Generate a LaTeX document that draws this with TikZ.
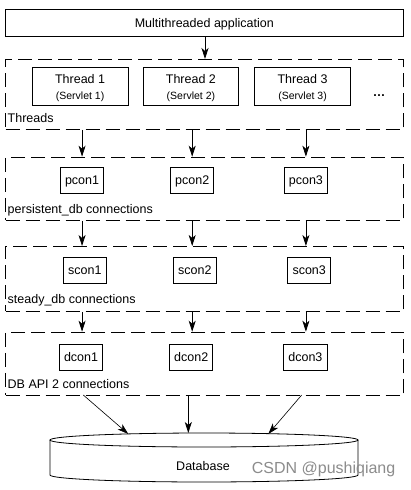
\documentclass[tikz,border=0pt]{standalone}
\usepackage{fontspec}
\setmainfont{Liberation Sans}
\usetikzlibrary{arrows.meta}
\tikzset{
  lw/.style={line width=0.8pt},
  box/.style={draw, lw, inner sep=0pt, anchor=north west},
  dbox/.style={draw, lw, dash pattern=on 14pt off 6pt, inner sep=0pt, anchor=north west},
  txt/.style={inner sep=0pt, anchor=base, font=\fontsize{12.5}{15}\selectfont},
  small/.style={inner sep=0pt, anchor=base, font=\fontsize{10.5}{13}\selectfont},
  lbl/.style={inner sep=0pt, anchor=base west, font=\fontsize{12.5}{15}\selectfont},
  arr/.style={lw, -{Stealth[length=11pt, width=7pt, inset=3pt]}},
  darr/.style={line width=0.6pt, -{Stealth[length=11pt, width=7pt, inset=3pt]}},
}
\begin{document}
\begin{tikzpicture}[x=1pt, y=-1pt]
\useasboundingbox (0,0) rectangle (410,490);
\fill[white] (0,0) rectangle (410,490);

% top application box
\node[box, minimum width=398pt, minimum height=26.7pt] (app) at (5.3,9.3) {};
\node[txt] (appt) at (204.3,27.3) {Multithreaded application};

% Threads layer
\node[dbox, minimum width=398pt, minimum height=70pt] (threads) at (5.3,59) {};
\node[box, minimum width=96pt, minimum height=38pt] (t1) at (31.7,67.3) {};
\node[box, minimum width=95.6pt, minimum height=38pt] (t2) at (142.7,67.3) {};
\node[box, minimum width=95.7pt, minimum height=38pt] (t3) at (254.3,67.3) {};
\node[txt] (t1a) at (t1.center |- 0,83.3) {Thread 1};
\node[small] (t1b) at (t1.center |- 0,99.3) {(Servlet 1)};
\node[txt] (t2a) at (t2.center |- 0,83.3) {Thread 2};
\node[small] (t2b) at (t2.center |- 0,99.3) {(Servlet 2)};
\node[txt] (t3a) at (t3.center |- 0,83.3) {Thread 3};
\node[small] (t3b) at (t3.center |- 0,99.3) {(Servlet 3)};
\node[txt] (dots) at (379,96) {\textbf{\dots}};
\node[lbl] (threadsl) at (7.5,122.7) {Threads};

% persistent_db layer
\node[dbox, minimum width=398pt, minimum height=63.3pt] (pers) at (5.3,156.7) {};
\node[box, minimum width=43.3pt, minimum height=26pt] (p1) at (60,167.3) {};
\node[box, minimum width=43pt, minimum height=26pt] (p2) at (170.3,167.3) {};
\node[box, minimum width=43pt, minimum height=26pt] (p3) at (284,167.3) {};
\node[txt] (p1t) at (p1.center |- 0,184.5) {pcon1};
\node[txt] (p2t) at (p2.center |- 0,184.5) {pcon2};
\node[txt] (p3t) at (p3.center |- 0,184.5) {pcon3};
\node[lbl] (persl) at (7.5,213) {persistent\_db connections};

% steady_db layer
\node[dbox, minimum width=398pt, minimum height=65pt] (steady) at (5.3,246) {};
\node[box, minimum width=42.4pt, minimum height=26.6pt] (s1) at (63.3,256.7) {};
\node[box, minimum width=43pt, minimum height=26.6pt] (s2) at (173,256.7) {};
\node[box, minimum width=43pt, minimum height=26.6pt] (s3) at (287.3,256.7) {};
\node[txt] (s1t) at (s1.center |- 0,274) {scon1};
\node[txt] (s2t) at (s2.center |- 0,274) {scon2};
\node[txt] (s3t) at (s3.center |- 0,274) {scon3};
\node[lbl] (steadyl) at (7.5,303) {steady\_db connections};

% DB API 2 layer
\node[dbox, minimum width=398pt, minimum height=63.3pt] (dapi) at (5.3,331.7) {};
\node[box, minimum width=42.7pt, minimum height=26pt] (d1) at (59.3,344) {};
\node[box, minimum width=43pt, minimum height=26pt] (d2) at (169.3,344) {};
\node[box, minimum width=43.4pt, minimum height=26pt] (d3) at (283.3,344) {};
\node[txt] (d1t) at (d1.center |- 0,361) {dcon1};
\node[txt] (d2t) at (d2.center |- 0,361) {dcon2};
\node[txt] (d3t) at (d3.center |- 0,361) {dcon3};
\node[lbl] (dapil) at (7.5,388) {DB API 2 connections};

% database cylinder
\draw[lw] (204,440) ellipse [x radius=154, y radius=7];
\draw[lw] (50,440) -- (50,475) arc[start angle=180, end angle=0, x radius=154, y radius=7] -- (358,440);
\node[txt] (db) at (203,470.7) {Database};
\node[inner sep=0pt, anchor=base west, text=black!45, font=\fontsize{16}{19}\selectfont] (wm) at (251.7,473) {CSDN @pushiqiang};

% connectors
\draw[arr] (app.south -| 205,0) -- (threads.north -| 205,0);
\foreach \i in {1,2,3} {
  \draw[arr] (threads.south -| p\i) -- (pers.north -| p\i);
  \draw[arr] (pers.south -| p\i) -- (steady.north -| p\i);
  \draw[arr] (steady.south -| p\i) -- (dapi.north -| p\i);
}
\coordinate (b1) at (83.3,395);
\coordinate (b2) at (188.3,395);
\coordinate (b3) at (301.7,395);
\coordinate (e1) at (128.3,434);
\coordinate (e2) at (188.3,433);
\coordinate (e3) at (268.3,434);
\draw[darr] (b1) -- (e1);
\draw[arr] (b2) -- (e2);
\draw[darr] (b3) -- (e3);
\end{tikzpicture}
\end{document}
